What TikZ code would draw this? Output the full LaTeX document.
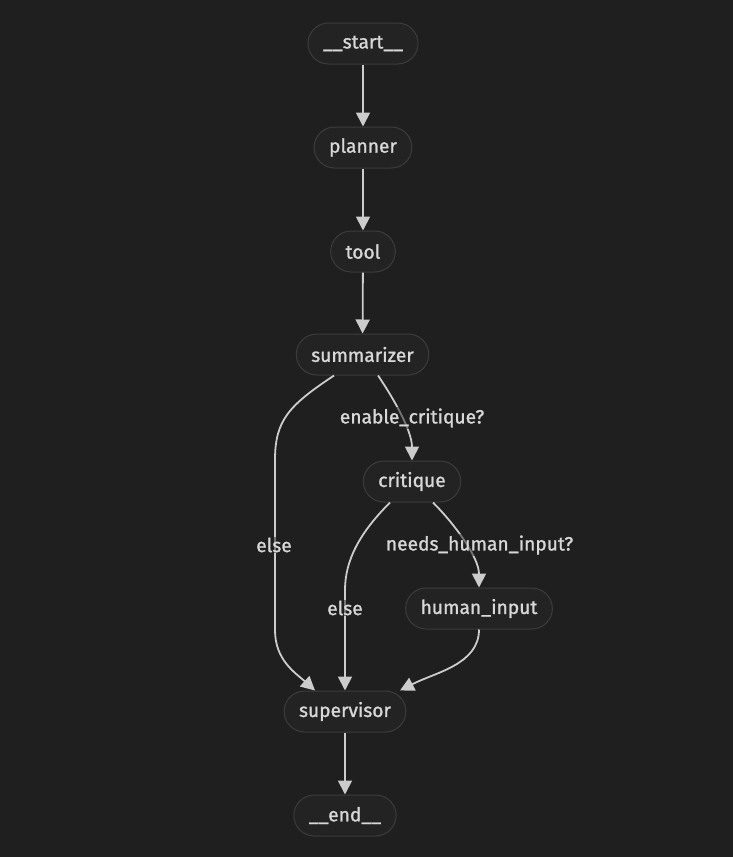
\documentclass[tikz,border=0pt]{standalone}
\usepackage{fontspec}
\setmainfont{Fira Sans}
\newfontfamily\diagfont{Fira Sans}[FakeBold=1.2]
\usetikzlibrary{arrows.meta}
\definecolor{bg}{HTML}{1F1F1F}
\definecolor{boxfill}{HTML}{232323}
\definecolor{boxline}{HTML}{3C3C3C}
\definecolor{ink}{HTML}{D8D8D8}
\definecolor{wire}{HTML}{CCCCCC}
\tikzset{every picture/.style={x=1pt,y=-1pt}}

\begin{document}
\begin{tikzpicture}[
    step node/.style={draw=boxline, fill=boxfill, text=ink, line width=1pt,
        rounded corners=20.5pt, minimum height=41pt, inner xsep=15pt,
        font=\diagfont\fontsize{19.2}{22}\selectfont},
    flow/.style={draw=wire, line width=1.8pt, -{Triangle[length=14pt,width=14pt]}},
    edge label/.style={text=ink, fill=bg, fill opacity=0.5, text opacity=1,
        inner sep=1pt, font=\diagfont\fontsize{19.2}{22}\selectfont}
]
    % Background
    \fill[bg] (0,0) rectangle (733,857);
    \useasboundingbox (0,0) rectangle (733,857);

    % Draw nodes
    \node[step node] (start) at (363,43.5) {\_\_start\_\_};
    \node[step node] (planner) at (363,147.5) {planner};
    \node[step node] (tool) at (363,251.5) {tool};
    \node[step node] (summ) at (362.5,354.5) {summarizer};
    \node[step node] (crit) at (412,481.5) {critique};
    \node[step node] (human) at (479,608.5) {human\_input};
    \node[step node] (sup) at (345,711.5) {supervisor};
    \node[step node] (end) at (345,815.5) {\_\_end\_\_};

    % Straight edges
    \draw[flow] (start) -- (planner);
    \draw[flow] (planner) -- (tool);
    \draw[flow] (tool) -- (summ);
    \draw[flow] (sup) -- (end);

    % Conditional edges
    \draw[flow] ([xshift=15.5pt]summ.south) .. controls ++(15,22) and ++(0,-30) .. (crit.north);
    \node[edge label] (enable) at (412,418) {enable\_critique?};
    \draw[flow] ([xshift=-28.5pt]summ.south) .. controls ++(-45,30) and ++(0,-40) .. (275,460) -- (275,630)
        .. controls ++(0,30) and ++(-20,-18) .. ([xshift=-30pt]sup.north);
    \node[edge label] (elseA) at (274,545) {else};
    \draw[flow] ([xshift=-22pt]crit.south) .. controls ++(-30,30) and ++(0,-30) .. (345,590) -- (sup.north);
    \node[edge label] (elseB) at (345,608) {else};
    \draw[flow] ([xshift=21pt]crit.south) .. controls ++(22,22) and ++(0,-30) .. (human.north);
    \node[edge label] (needs) at (479.5,545) {needs\_human\_input?};
    \draw[flow] (human.south) .. controls ++(0,35) and ++(35,-18) .. ([xshift=55pt]sup.north);
\end{tikzpicture}
\end{document}
